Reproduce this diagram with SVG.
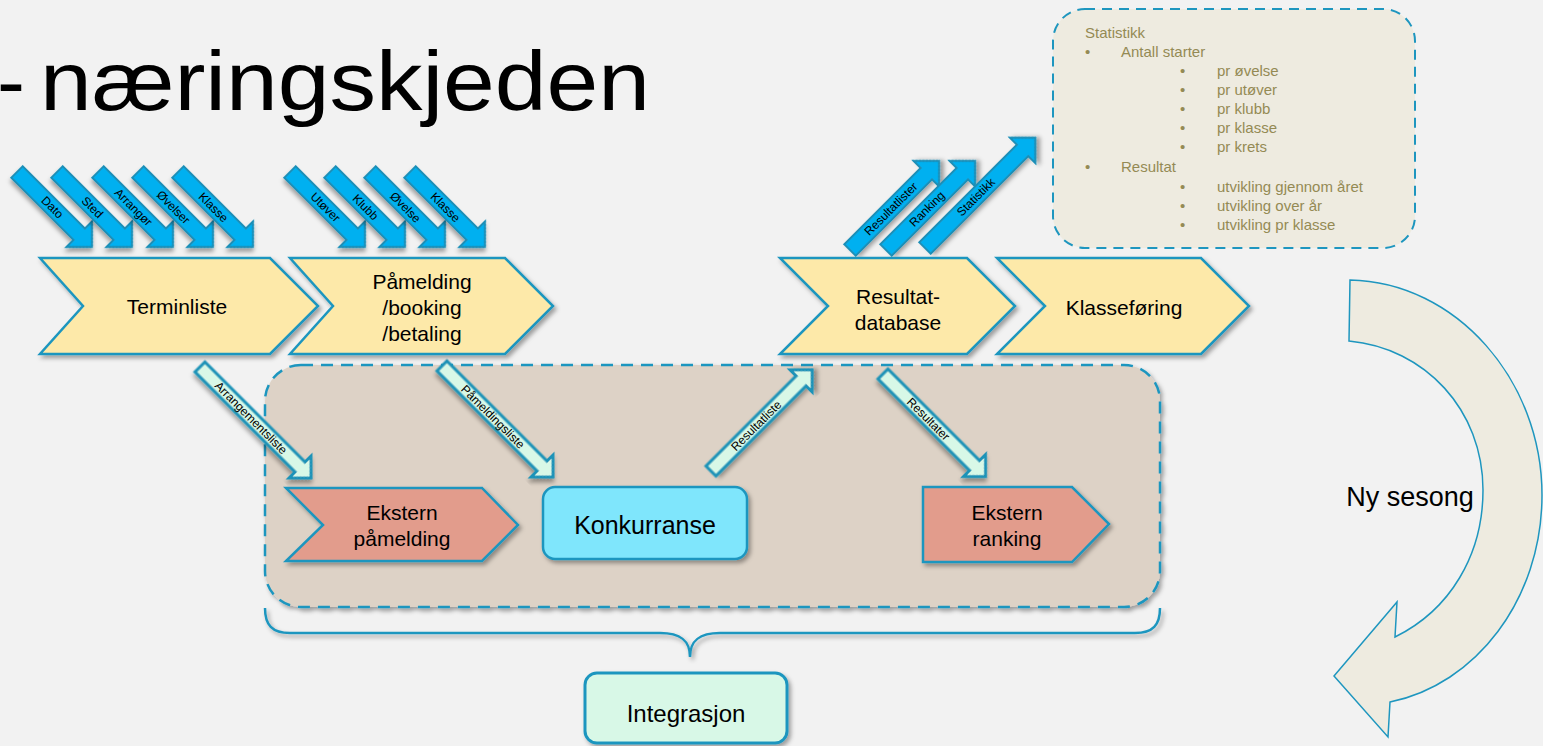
<svg xmlns="http://www.w3.org/2000/svg" width="1543" height="746" viewBox="0 0 1543 746">
<defs>
<filter id="sh" x="-20%" y="-20%" width="140%" height="140%">
<feDropShadow dx="2.5" dy="3" stdDeviation="2" flood-color="#000" flood-opacity="0.35"/>
</filter>
<path id="ba" d="M0,-8 L88,-8 L88,-18 L106,0 L88,18 L88,8 L0,8 Z"/>
<style>
text{font-family:"Liberation Sans",Arial,sans-serif;fill:#000}
.chev{fill:#fde9a9;stroke:#1e96bf;stroke-width:2.5;filter:url(#sh)}
.ab{fill:#00b0f0;stroke:#1b8fb7;stroke-width:2;filter:url(#sh)}
.am{fill:#d8f8e7;stroke:#1b93b8;stroke-width:3;filter:url(#sh)}
.lbl{font-size:12px;text-anchor:middle;fill:#000}
.t21{font-size:21px;text-anchor:middle}
.st{font-size:15px;fill:#948a54}
.dash{stroke:#1e96bf;stroke-width:2.5;stroke-dasharray:12 8}
</style>
</defs>
<rect width="1543" height="746" fill="#f2f2f2"/>

<text y="110" font-size="84"><tspan x="-3">-</tspan><tspan x="40" textLength="610" lengthAdjust="spacingAndGlyphs">næringskjeden</tspan></text>

<g id="integrasjon-area">
<rect x="265" y="365" width="895" height="242" rx="36" fill="#ddd2c6" class="dash" filter="url(#sh)"/>
<path d="M265,608 C265,625 272,633 290,633 L660,633 C680,633 690,640 690,657 C690,640 700,633 720,633 L1135,633 C1153,633 1160,625 1160,608" fill="none" stroke="#1e96bf" stroke-width="2.5" filter="url(#sh)"/>
</g>

<g id="statistikk-box">
<rect x="1053" y="9" width="362" height="239" rx="32" fill="#eeebe0" stroke="#1e96bf" stroke-width="2" stroke-dasharray="10 7"/>
<text class="st" x="1085" y="38">Statistikk</text>
<text class="st" x="1085" y="57">•</text><text class="st" x="1121" y="57">Antall starter</text>
<text class="st" x="1180" y="76">•</text><text class="st" x="1217" y="76">pr øvelse</text>
<text class="st" x="1180" y="95">•</text><text class="st" x="1217" y="95">pr utøver</text>
<text class="st" x="1180" y="114">•</text><text class="st" x="1217" y="114">pr klubb</text>
<text class="st" x="1180" y="133">•</text><text class="st" x="1217" y="133">pr klasse</text>
<text class="st" x="1180" y="152">•</text><text class="st" x="1217" y="152">pr krets</text>
<text class="st" x="1085" y="172">•</text><text class="st" x="1121" y="172">Resultat</text>
<text class="st" x="1180" y="192">•</text><text class="st" x="1217" y="192">utvikling gjennom året</text>
<text class="st" x="1180" y="211">•</text><text class="st" x="1217" y="211">utvikling over år</text>
<text class="st" x="1180" y="230">•</text><text class="st" x="1217" y="230">utvikling pr klasse</text>
</g>

<g id="connectors">
<g transform="translate(17,172) rotate(45)"><use href="#ba" class="ab"/><text class="lbl" x="50" y="4">Dato</text></g>
<g transform="translate(57,172) rotate(45)"><use href="#ba" class="ab"/><text class="lbl" x="50" y="4">Sted</text></g>
<g transform="translate(98,172) rotate(45)"><use href="#ba" class="ab"/><text class="lbl" x="50" y="4">Arrangør</text></g>
<g transform="translate(138,172) rotate(45)"><use href="#ba" class="ab"/><text class="lbl" x="50" y="4">Øvelser</text></g>
<g transform="translate(178,172) rotate(45)"><use href="#ba" class="ab"/><text class="lbl" x="50" y="4">Klasse</text></g>
<g transform="translate(290,172) rotate(45)"><use href="#ba" class="ab"/><text class="lbl" x="50" y="4">Utøver</text></g>
<g transform="translate(330,172) rotate(45)"><use href="#ba" class="ab"/><text class="lbl" x="50" y="4">Klubb</text></g>
<g transform="translate(370,172) rotate(45)"><use href="#ba" class="ab"/><text class="lbl" x="50" y="4">Øvelse</text></g>
<g transform="translate(410,172) rotate(45)"><use href="#ba" class="ab"/><text class="lbl" x="50" y="4">Klasse</text></g>
<g transform="translate(850,250) rotate(-45)"><path class="ab" d="M0,-8 L108,-8 L108,-18 L126,0 L108,18 L108,8 L0,8 Z"/><text class="lbl" x="58" y="4">Resultatlister</text></g>
<g transform="translate(886,250) rotate(-45)"><path class="ab" d="M0,-8 L108,-8 L108,-18 L126,0 L108,18 L108,8 L0,8 Z"/><text class="lbl" x="58" y="4">Ranking</text></g>
<g transform="translate(925,248) rotate(-45)"><path class="ab" d="M0,-8 L138,-8 L138,-18 L156,0 L138,18 L138,8 L0,8 Z"/><text class="lbl" x="72" y="4">Statistikk</text></g>
<g transform="translate(200,367) rotate(45)"><path class="am" d="M0,-7 L141.5,-7 L141.5,-15.5 L157,0 L141.5,15.5 L141.5,7 L0,7 Z"/><text class="lbl" x="72" y="4">Arrangementsliste</text></g>
<g transform="translate(442,366) rotate(45)"><path class="am" d="M0,-7 L141.5,-7 L141.5,-15.5 L157,0 L141.5,15.5 L141.5,7 L0,7 Z"/><text class="lbl" x="72" y="4">Påmeldingsliste</text></g>
<g transform="translate(711,471) rotate(-45)"><path class="am" d="M0,-7 L127.5,-7 L127.5,-15.5 L143,0 L127.5,15.5 L127.5,7 L0,7 Z"/><text class="lbl" x="64" y="4">Resultatliste</text></g>
<g transform="translate(883,374) rotate(45)"><path class="am" d="M0,-7 L129.5,-7 L129.5,-15.5 L145,0 L129.5,15.5 L129.5,7 L0,7 Z"/><text class="lbl" x="64" y="4">Resultater</text></g>
</g>

<g id="terminliste">
<path class="chev" d="M40,258 L270,258 L318,306 L270,354 L40,354 L83,306 Z"/>
<text class="t21" x="177" y="314">Terminliste</text>
</g>
<g id="pamelding">
<path class="chev" d="M290,258 L505,258 L553,306 L505,354 L290,354 L333,306 Z"/>
<text class="t21" x="422" y="289">Påmelding</text>
<text class="t21" x="422" y="315">/booking</text>
<text class="t21" x="422" y="341">/betaling</text>
</g>
<g id="resultatdatabase">
<path class="chev" d="M780,258 L967,258 L1015,306 L967,354 L780,354 L828,306 Z"/>
<text class="t21" x="898" y="304">Resultat-</text>
<text class="t21" x="898" y="330">database</text>
</g>
<g id="klasseforing">
<path class="chev" d="M997,258 L1201,258 L1249,306 L1201,354 L997,354 L1045,306 Z"/>
<text class="t21" x="1124" y="315">Klasseføring</text>
</g>

<g id="ekstern-pamelding">
<path d="M286,488 L482,488 L518,525 L482,561 L286,561 L323,525 Z" fill="#e29c8c" stroke="#1e96bf" stroke-width="2.5" filter="url(#sh)"/>
<text class="t21" x="402" y="520">Ekstern</text>
<text class="t21" x="402" y="546">påmelding</text>
</g>
<g id="konkurranse">
<rect x="543" y="487" width="204" height="72" rx="12" fill="#7fe6fc" stroke="#1e96bf" stroke-width="2.5" filter="url(#sh)"/>
<text x="645" y="534" font-size="25" text-anchor="middle">Konkurranse</text>
</g>
<g id="ekstern-ranking">
<path d="M923,487 L1072,487 L1109,524 L1072,562 L923,562 Z" fill="#e29c8c" stroke="#1e96bf" stroke-width="2.5" filter="url(#sh)"/>
<text class="t21" x="1007" y="520">Ekstern</text>
<text class="t21" x="1007" y="546">ranking</text>
</g>
<g id="integrasjon">
<rect x="585" y="673" width="202" height="70" rx="12" fill="#d8f8e7" stroke="#1e96bf" stroke-width="3" filter="url(#sh)"/>
<text x="686" y="722" font-size="24" text-anchor="middle">Integrasjon</text>
</g>

<g id="ny-sesong">
<path d="M1350,280 C1456,282 1542,380 1542,495 C1542,600 1475,685 1390,702 L1388,737 L1334,676 L1397,602 L1395,637 C1450,610 1483,555 1483,490 C1483,410 1425,348 1349,341 Z" fill="#eeebe0" stroke="#1e96bf" stroke-width="1.5"/>
<text x="1410" y="506" font-size="27" text-anchor="middle">Ny sesong</text>
</g>
</svg>
